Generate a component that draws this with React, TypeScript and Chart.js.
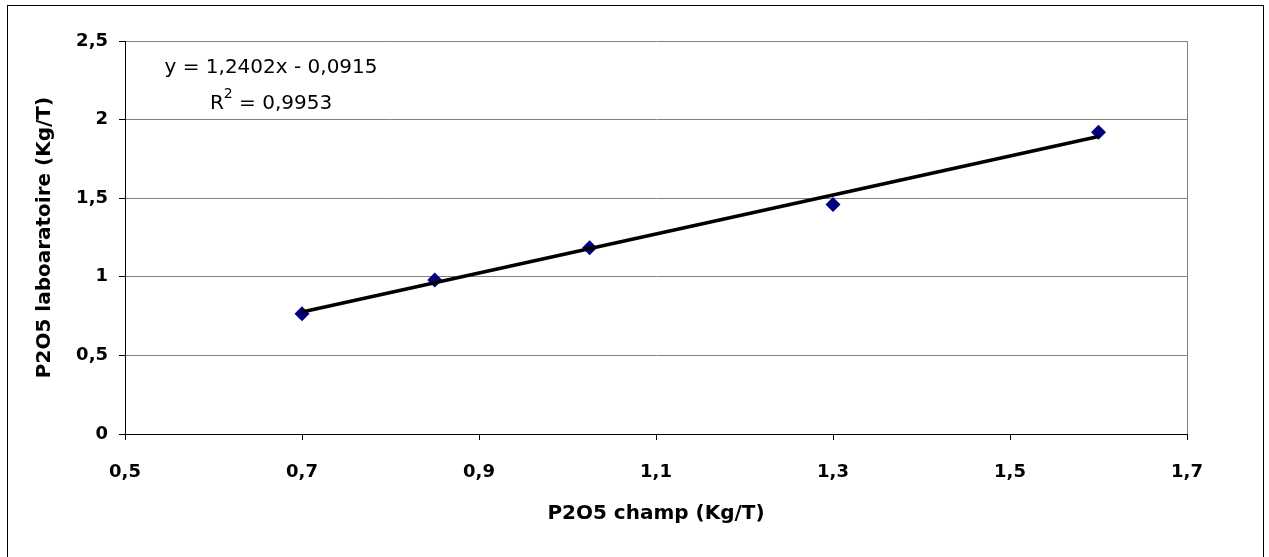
import React, { useEffect, useRef } from "react";
import { Chart, registerables } from "chart.js";

Chart.register(...registerables);

// ---- data ----
const xValues = [0.7, 0.85, 1.025, 1.3, 1.6];
const yValues = [0.765, 0.98, 1.185, 1.46, 1.92];
const trendX = [0.7, 1.6];
const trendY = [0.7766, 1.8928];
const xTicks = [0.5, 0.7, 0.9, 1.1, 1.3, 1.5, 1.7];
const yTicks = [0, 0.5, 1, 1.5, 2, 2.5];
const equationText = "y = 1,2402x - 0,0915";
const rSquaredValue = "0,9953";
const xTitle = "P2O5 champ (Kg/T)";
const yTitle = "P2O5 laboaratoire (Kg/T)";

const FONT = "'DejaVu Sans', 'Liberation Sans', Arial, sans-serif";
const fmt = (v: number) => String(Math.round(v * 10) / 10).replace(".", ",");

const framePlugin = {
  id: "frame",
  afterDraw(chart: any) {
    const { ctx, chartArea, scales } = chart;
    ctx.save();
    // plot area right border
    ctx.strokeStyle = "#808080";
    ctx.lineWidth = 1;
    ctx.beginPath();
    ctx.moveTo(Math.round(chartArea.right) + 0.5, chartArea.top);
    ctx.lineTo(Math.round(chartArea.right) + 0.5, chartArea.bottom);
    ctx.stroke();
    // outer chart border
    ctx.strokeStyle = "#000";
    ctx.lineWidth = 1;
    ctx.strokeRect(7.5, 5.5, 1256, 560);

    // trendline equation
    const xs = scales.x;
    const ys = scales.y;
    const cx = xs.getPixelForValue(0.665);
    const y1 = ys.getPixelForValue(2.294);
    const y2 = ys.getPixelForValue(2.066);
    ctx.fillStyle = "#000";
    ctx.textBaseline = "alphabetic";
    ctx.font = `normal 20px ${FONT}`;
    ctx.textAlign = "center";
    ctx.fillText(equationText, cx, y1);

    const mainA = "R";
    const mainB = " = " + rSquaredValue;
    ctx.font = `normal 20px ${FONT}`;
    const wA = ctx.measureText(mainA).width;
    const wB = ctx.measureText(mainB).width;
    ctx.font = `normal 14px ${FONT}`;
    const wS = ctx.measureText("2").width;
    const total = wA + wS + wB;
    let x0 = cx - total / 2;
    ctx.textAlign = "left";
    ctx.font = `normal 20px ${FONT}`;
    ctx.fillText(mainA, x0, y2);
    x0 += wA;
    ctx.font = `normal 14px ${FONT}`;
    ctx.fillText("2", x0, y2 - 11);
    x0 += wS;
    ctx.font = `normal 20px ${FONT}`;
    ctx.fillText(mainB, x0, y2);
    ctx.restore();
  },
};

export default function App() {
  const canvasRef = useRef<HTMLCanvasElement | null>(null);

  useEffect(() => {
    document.body.style.margin = "0";
    const canvas = canvasRef.current;
    if (!canvas) return;
    const chart = new Chart(canvas, {
      type: "scatter",
      data: {
        datasets: [
          {
            label: "Tendance",
            data: trendX.map((x, i) => ({ x, y: trendY[i] })),
            showLine: true,
            borderColor: "#000",
            borderWidth: 3.5,
            pointRadius: 0,
            pointHoverRadius: 0,
            fill: false,
          },
          {
            label: "P2O5",
            data: xValues.map((x, i) => ({ x, y: yValues[i] })),
            showLine: false,
            pointStyle: "rectRot",
            pointRadius: 7.5,
            pointBackgroundColor: "#000080",
            pointBorderColor: "#000080",
            pointBorderWidth: 0,
          },
        ],
      },
      options: {
        responsive: false,
        animation: false,
        devicePixelRatio: 1,
        layout: { padding: { left: 0, top: 41, right: 82, bottom: 0 } },
        plugins: {
          legend: { display: false },
          tooltip: { enabled: false },
          title: { display: false },
        },
        scales: {
          x: {
            type: "linear",
            position: "bottom",
            min: 0.5,
            max: 1.7,
            afterBuildTicks: (s: any) => {
              s.ticks = xTicks.map((v) => ({ value: v }));
            },
            afterFit: (s: any) => {
              s.height = 123;
            },
            ticks: {
              color: "#000",
              font: { family: FONT, size: 18, weight: "bold" },
              padding: 22,
              maxRotation: 0,
              callback: (v: any) => fmt(Number(v)),
            },
            grid: {
              display: true,
              drawOnChartArea: false,
              drawTicks: true,
              tickLength: 6,
              tickColor: "#000",
            },
            border: { display: true, color: "#000", width: 1 },
            title: {
              display: true,
              text: xTitle,
              color: "#000",
              font: { family: FONT, size: 20, weight: "bold" },
              padding: { top: 0, bottom: 31 },
            },
          },
          y: {
            type: "linear",
            min: 0,
            max: 2.5,
            afterBuildTicks: (s: any) => {
              s.ticks = yTicks.map((v) => ({ value: v }));
            },
            afterFit: (s: any) => {
              s.width = 125;
            },
            ticks: {
              color: "#000",
              font: { family: FONT, size: 18, weight: "bold" },
              padding: 11,
              callback: (v: any) => fmt(Number(v)),
            },
            grid: {
              color: "#808080",
              lineWidth: 1,
              drawTicks: true,
              tickLength: 6,
              tickColor: "#000",
            },
            border: { display: true, color: "#000", width: 1 },
            title: {
              display: true,
              text: yTitle,
              color: "#000",
              font: { family: FONT, size: 20, weight: "bold" },
              padding: { top: 33, bottom: 0 },
            },
          },
        },
      },
      plugins: [framePlugin],
    });
    return () => chart.destroy();
  }, []);

  return (
    <div style={{ width: 1269, height: 557, position: "relative", background: "#fff" }}>
      <canvas ref={canvasRef} width={1269} height={557} style={{ display: "block" }} />
    </div>
  );
}
